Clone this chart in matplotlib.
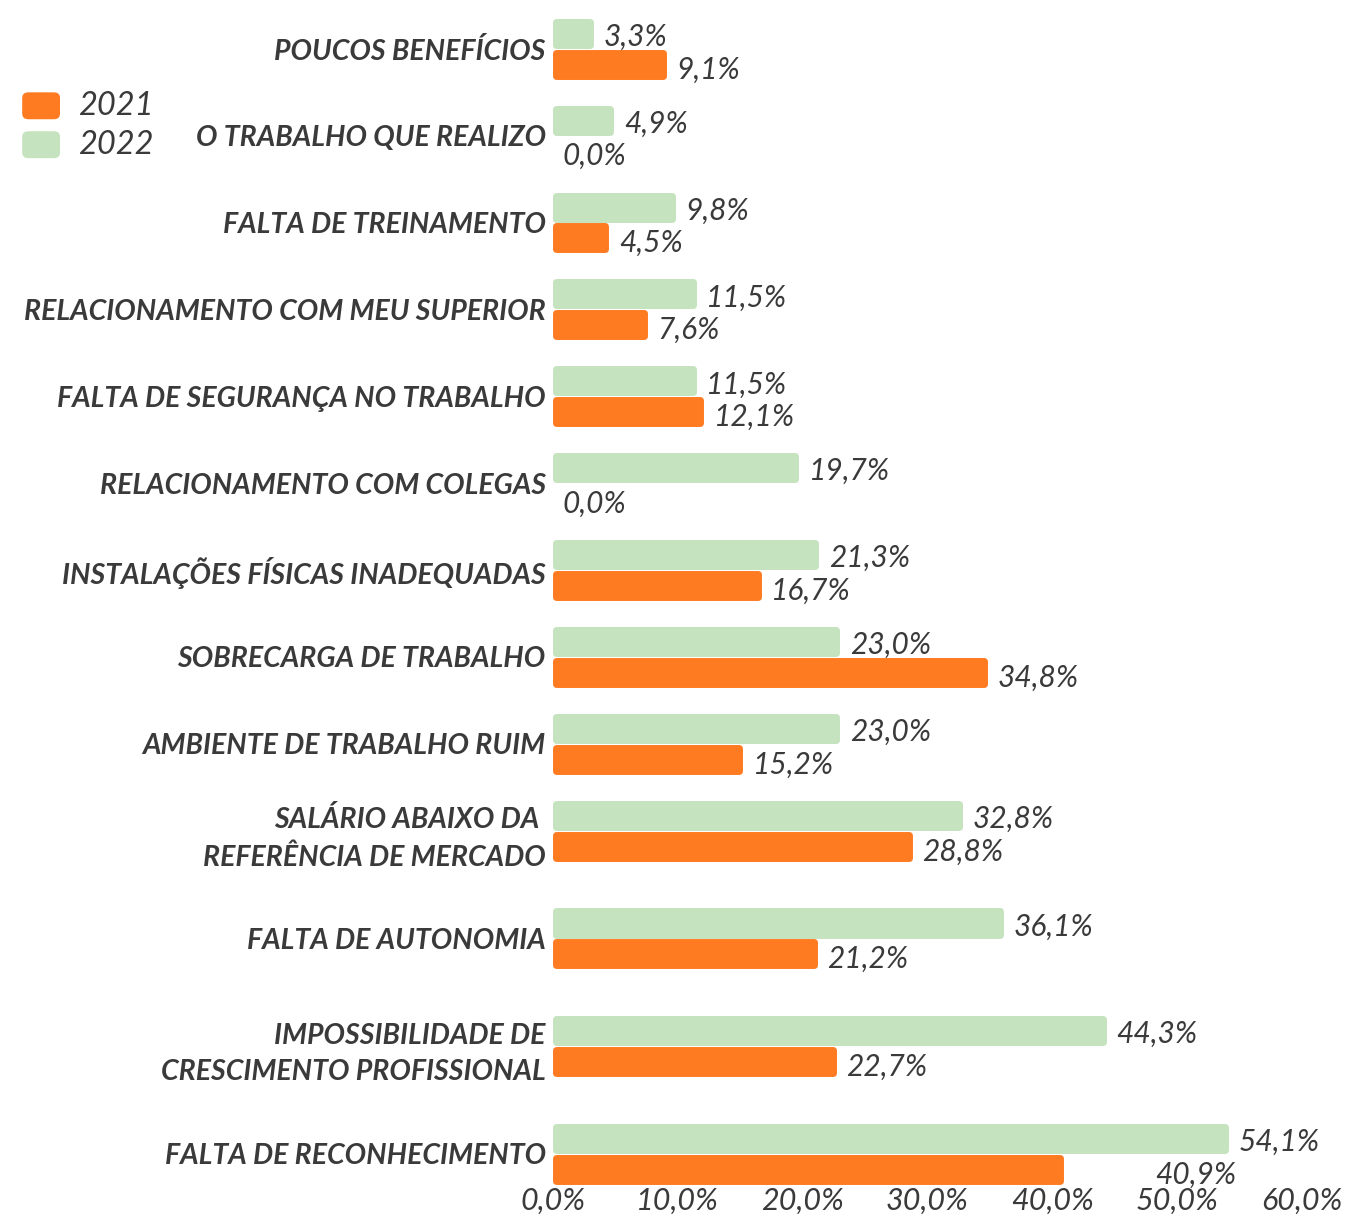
import numpy as np
import matplotlib
matplotlib.use("Agg")
import matplotlib.pyplot as plt
from matplotlib.patches import FancyBboxPatch

# dados do gráfico
categorias = [
    "POUCOS BENEFÍCIOS",
    "O TRABALHO QUE REALIZO",
    "FALTA DE TREINAMENTO",
    "RELACIONAMENTO COM MEU SUPERIOR",
    "FALTA DE SEGURANÇA NO TRABALHO",
    "RELACIONAMENTO COM COLEGAS",
    "INSTALAÇÕES FÍSICAS INADEQUADAS",
    "SOBRECARGA DE TRABALHO",
    "AMBIENTE DE TRABALHO RUIM",
    "SALÁRIO ABAIXO DA \nREFERÊNCIA DE MERCADO",
    "FALTA DE AUTONOMIA",
    "IMPOSSIBILIDADE DE\nCRESCIMENTO PROFISSIONAL",
    "FALTA DE RECONHECIMENTO",
]
valores_2022 = [3.3, 4.9, 9.8, 11.5, 11.5, 19.7, 21.3, 23.0, 23.0, 32.8, 36.1, 44.3, 54.1]
valores_2021 = [9.1, 0.0, 4.5, 7.6, 12.1, 0.0, 16.7, 34.8, 15.2, 28.8, 21.2, 22.7, 40.9]
anos = ["2021", "2022"]
ticks_x = [0, 10, 20, 30, 40, 50, 60]

LARANJA = "#FF7B22"
VERDE = "#C5E3BE"
TEXTO = "#3a3a3a"
FONTE = "Lato"

plt.rcParams["font.family"] = [FONTE, "DejaVu Sans"]


def pct(v):
    return f"{v:.1f}%".replace(".", ",")


# posições: linhas das categorias de duas linhas ficam mais espaçadas
gaps = [1.0] * 9 + [1.24] * 3
pos = np.concatenate([[0.0], np.cumsum(gaps)])
h = 0.355

fig = plt.figure(figsize=(13.48, 12.16), dpi=100)
ax = fig.add_axes([0.410, 0.025, 0.556, 0.961])

# cantos arredondados: borda grossa com junção redonda
lw = 5.0
r_y = lw / 72 * 100 / 87 / 2      # meia borda em unidades y
r_x = lw / 72 * 100 / 12.45 / 2   # meia borda em unidades x (%)

for y, v22, v21 in zip(pos, valores_2022, valores_2021):
    for val, yc, cor in [(v22, y - h / 2, VERDE), (v21, y + h / 2, LARANJA)]:
        if val > 0:
            ax.barh(yc, val - 2 * r_x, left=r_x, height=h - 2 * r_y - 0.01,
                    color=cor, edgecolor=cor, linewidth=lw, joinstyle="round")

for i, (y, v22, v21) in enumerate(zip(pos, valores_2022, valores_2021)):
    ax.text(v22 + 0.8, y - h / 2 + 0.04, pct(v22), ha="left", va="center",
            fontsize=21.5, style="italic", color=TEXTO)
    x21 = v21 + 0.8
    if i == len(pos) - 1:
        x21 = 48.2  # rótulo deslocado no original
    ax.text(x21, y + h / 2 + 0.06, pct(v21), ha="left", va="center",
            fontsize=21.5, style="italic", color=TEXTO)

ax.set_xlim(0, 60)
ax.set_ylim(pos[-1] + h + 0.01, pos[0] - h - 0.01)
ax.set_yticks(pos, categorias)
ax.set_xticks(ticks_x, [pct(t) for t in ticks_x])
ax.tick_params(axis="both", length=0, colors=TEXTO)
ax.tick_params(axis="y", pad=5)
ax.tick_params(axis="x", pad=1)
for lab in ax.get_yticklabels():
    lab.set_fontsize(20.5)
    lab.set_fontstyle("italic")
    lab.set_fontweight("bold")
    lab.set_linespacing(1.5)
for lab in ax.get_xticklabels():
    lab.set_fontsize(22)
    lab.set_fontstyle("italic")
for s in ax.spines.values():
    s.set_visible(False)

# legenda
for yy, cor, ano in [(0.913, LARANJA, anos[0]), (0.881, VERDE, anos[1])]:
    fig.patches.append(FancyBboxPatch((0.017, yy - 0.0105), 0.027, 0.021,
                                      boxstyle="round,pad=0,rounding_size=0.004",
                                      transform=fig.transFigure, color=cor))
    fig.text(0.058, yy, ano, ha="left", va="center", fontsize=23.5,
             style="italic", color=TEXTO)

fig.savefig("out.png", dpi=100)
